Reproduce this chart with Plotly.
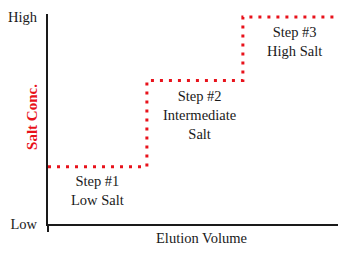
import plotly.graph_objects as go

# Data (normalised units)
step_x = [0.0, 0.341, 0.672, 1.0]          # elution volume where each level begins (last = end)
step_y = [0.277, 0.693, 1.0, 1.0]          # salt concentration level
label_text = ["Step #1<br>Low Salt", "Step #2<br>Intermediate<br>Salt", "Step #3<br>High Salt"]
label_x = [0.169, 0.522, 0.849]
label_y = [0.162, 0.528, 0.882]
y_tick_vals = [0, 1]
y_tick_text = ["Low", "High"]

FONT = "Liberation Serif, Times New Roman, serif"
RED = "#e8121b"
INK = "#1a1a1a"

fig = go.Figure()
fig.add_trace(go.Scatter(
    x=step_x, y=step_y, mode="lines", line_shape="hv",
    line=dict(color=RED, width=3, dash="3px,6px"),
    hoverinfo="skip", showlegend=False,
))

for t, x, y in zip(label_text, label_x, label_y):
    fig.add_annotation(x=x, y=y, xref="x", yref="y", text=t, showarrow=False,
                       font=dict(family=FONT, size=14.5, color=INK), align="center")

fig.add_annotation(x=-0.0897, y=0.51, xref="paper", yref="paper", text="<b>Salt Conc.</b>",
                   textangle=-90, showarrow=False, font=dict(family=FONT, size=15, color=RED))
fig.add_annotation(x=0.528, y=-0.114, xref="paper", yref="paper", text="Elution Volume",
                   showarrow=False, font=dict(family=FONT, size=14.5, color=INK))

fig.update_xaxes(range=[0, 1], showline=True, linecolor=INK, linewidth=2, showgrid=False,
                 zeroline=False, tickvals=[0], ticks="outside", ticklen=6, tickwidth=2,
                 tickcolor=INK, showticklabels=False)
fig.update_yaxes(range=[0, 1.015], showline=True, linecolor=INK, linewidth=2, showgrid=False,
                 zeroline=False, tickvals=y_tick_vals, ticktext=y_tick_text, ticks="",
                 ticklabelstandoff=6, tickfont=dict(family=FONT, size=14.5, color=INK))

fig.update_layout(width=338, height=257, margin=dict(l=48, r=0, t=14, b=33),
                  paper_bgcolor="white", plot_bgcolor="white", hovermode=False)
fig.write_html("out.html", config={"displayModeBar": False, "staticPlot": True},
               post_script="document.body.style.margin='0';document.body.style.overflow='hidden';")
